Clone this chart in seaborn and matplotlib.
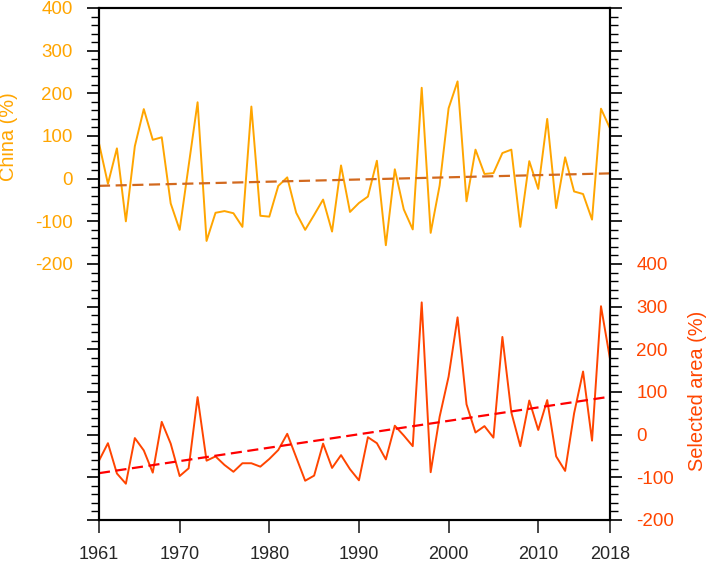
import numpy as np
import pandas as pd
import matplotlib
matplotlib.use("Agg")
import matplotlib.pyplot as plt
import seaborn as sns
from matplotlib.ticker import MultipleLocator, FixedLocator

years = np.arange(1961, 2019)

china = [83, -12, 71, -100, 76, 163, 91, 97, -58, -120,
         30, 179, -146, -80, -76, -81, -113, 169, -87, -89,
         -17, 3, -80, -120, -85, -49, -124, 31, -78, -57,
         -42, 42, -156, 22, -72, -119, 213, -127, -16, 165,
         228, -53, 68, 11, 13, 60, 68, -113, 41, -24,
         140, -69, 50, -30, -36, -96, 164, 118]

selected = [-61, -20, -91, -115, -8, -37, -89, 30, -21, -97,
            -79, 88, -61, -51, -71, -87, -67, -67, -75, -57,
            -36, 2, -53, -108, -96, -21, -78, -48, -81, -107,
            -6, -20, -58, 21, -2, -27, 310, -88, 42, 136,
            275, 71, 5, 20, -7, 229, 52, -27, 80, 11,
            81, -51, -85, 50, 148, -14, 301, 178]

xticks = [1961, 1970, 1980, 1990, 2000, 2010, 2018]

df = pd.DataFrame({"year": years, "china": china, "selected": selected})
df["china_trend"] = np.polyval(np.polyfit(df["year"], df["china"], 1), df["year"])
df["selected_trend"] = np.polyval(np.polyfit(df["year"], df["selected"], 1), df["year"])

sns.set_style("ticks")
plt.rcParams["font.family"] = ["Liberation Sans", "DejaVu Sans"]

c_china = "#FFA500"
c_china_tr = "#D2691E"
c_sel = "#FF4500"
c_sel_tr = "#FF0000"

fig = plt.figure(figsize=(7.1, 5.63), dpi=100)
ax = fig.add_axes([0.1394, 0.0764, 0.7197, 0.9094])

sns.lineplot(data=df, x="year", y="china", color=c_china, lw=1.4, ax=ax)
sns.lineplot(data=df, x="year", y="china_trend", color=c_china_tr, lw=1.6,
             linestyle=(0, (5, 2.5)), ax=ax)
ax.set_xlim(1961, 2018)
ax.set_ylim(-800, 400)

ax2 = ax.twinx()
sns.lineplot(data=df, x="year", y="selected", color=c_sel, lw=1.4, ax=ax2)
sns.lineplot(data=df, x="year", y="selected_trend", color=c_sel_tr, lw=1.6,
             linestyle=(0, (5, 2.5)), ax=ax2)
ax2.set_ylim(-200, 1000)
ax2.set_xlim(1961, 2018)

# left axis
ax.yaxis.set_major_locator(MultipleLocator(100))
ax.yaxis.set_minor_locator(MultipleLocator(20))
ax.set_yticklabels([str(int(v)) if -200 <= v <= 400 else "" for v in ax.get_yticks()])
ax.tick_params(axis="y", which="major", length=8.5, width=1.2, pad=10.5,
               labelsize=13.5, labelcolor=c_china, color="black")
ax.tick_params(axis="y", which="minor", length=5.5, width=1.0, color="black")
ax.set_ylabel("China (%)", color=c_china, fontsize=14.4)
ax.yaxis.set_label_coords(-0.1585, 0.748)

# right axis
ax2.yaxis.set_major_locator(MultipleLocator(100))
ax2.yaxis.set_minor_locator(MultipleLocator(20))
ax2.set_yticklabels([str(int(v)) if -200 <= v <= 400 else "" for v in ax2.get_yticks()])
ax2.tick_params(axis="y", which="major", length=8.5, width=1.2, pad=10.5,
                labelsize=13.5, labelcolor=c_sel, color="black")
ax2.tick_params(axis="y", which="minor", length=5.5, width=1.0, color="black")
ax2.set_ylabel("Selected area (%)", color=c_sel, fontsize=14.4)
ax2.yaxis.set_label_coords(1.1526, 0.252)

# x axis
ax.xaxis.set_major_locator(FixedLocator(xticks))
ax.set_xticklabels([str(v) for v in xticks])
ax.tick_params(axis="x", which="major", length=9.5, width=1.2, pad=9, labelsize=13)
ax.set_xlabel("")

for a in (ax, ax2):
    for s in a.spines.values():
        s.set_linewidth(1.5)
        s.set_color("black")
        s.set_visible(True)

fig.savefig("out.png", dpi=100)
